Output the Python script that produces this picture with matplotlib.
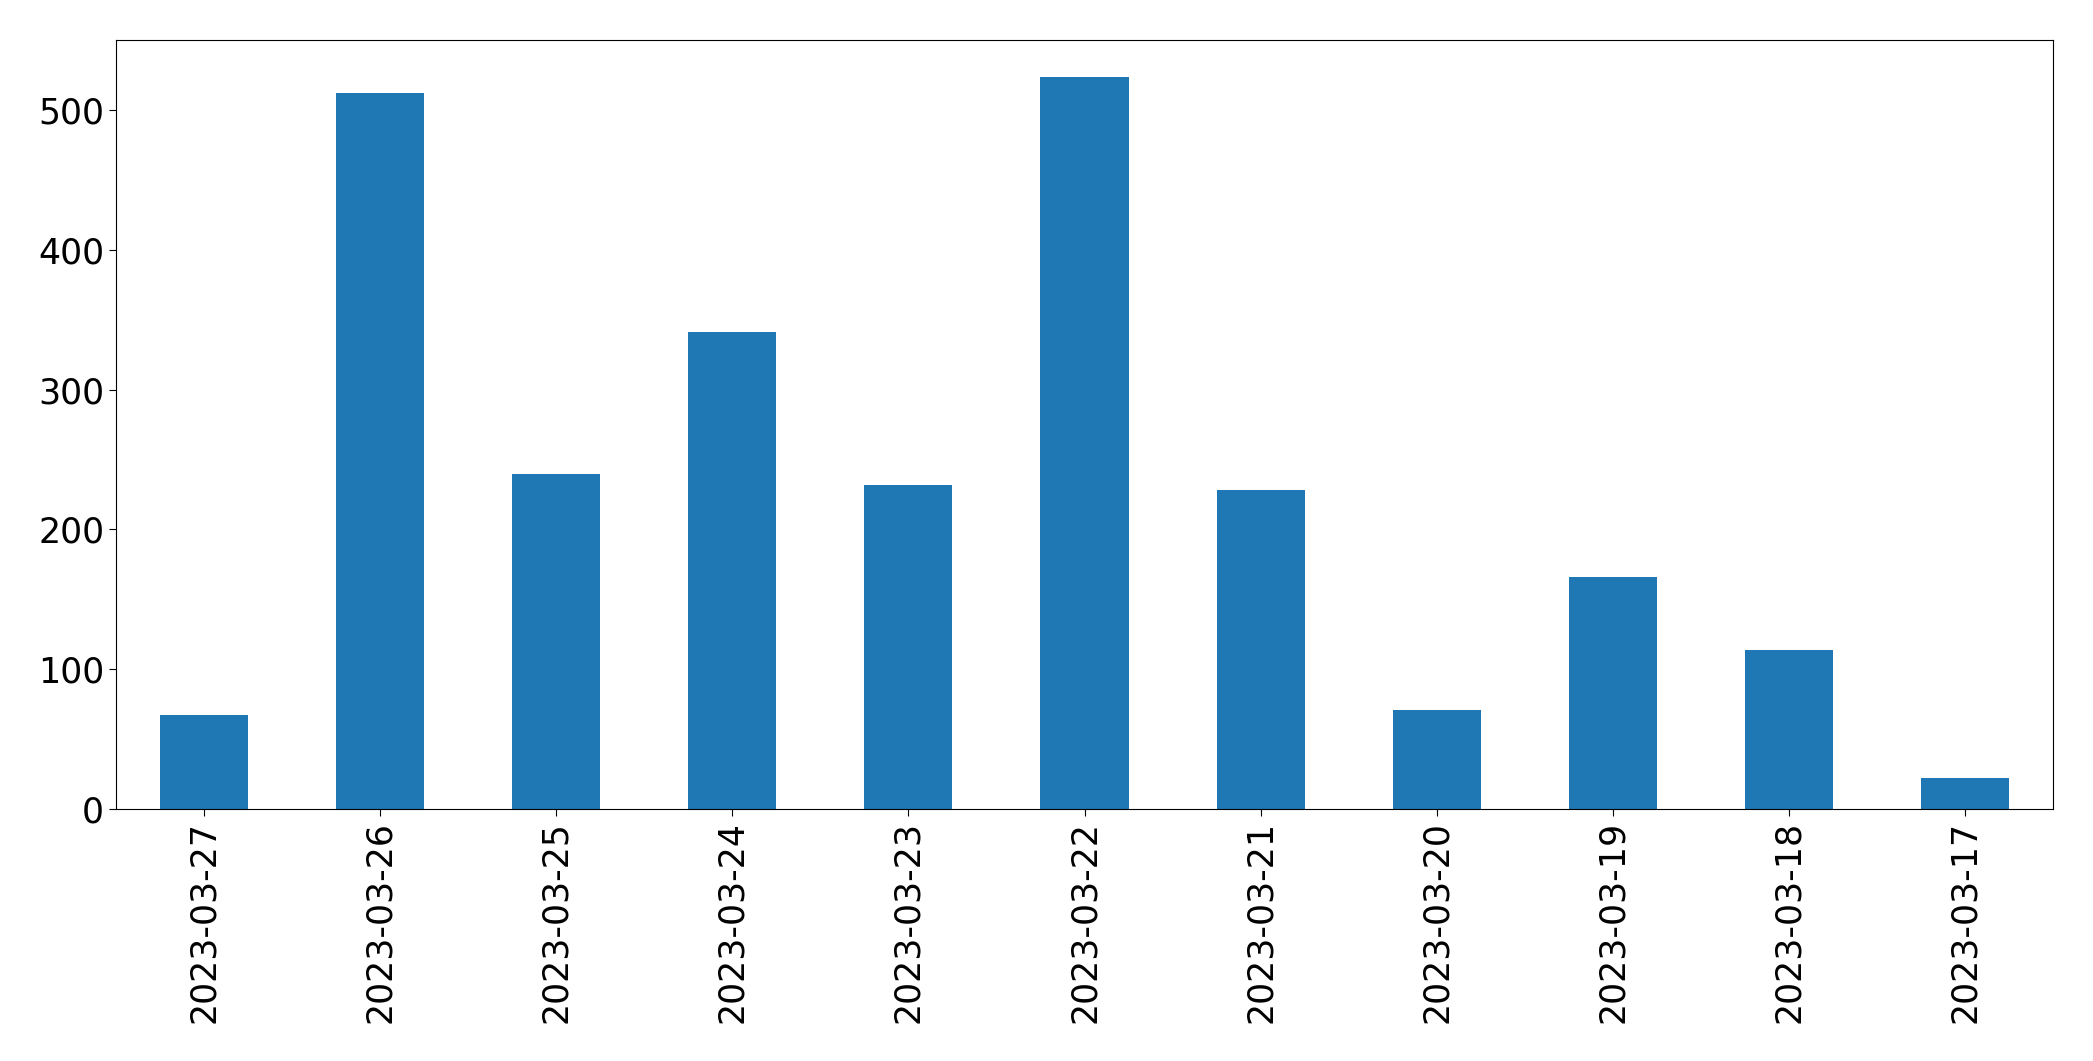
import matplotlib
matplotlib.use("Agg")
import matplotlib.pyplot as plt
import numpy as np

dates = ["2023-03-27", "2023-03-26", "2023-03-25", "2023-03-24", "2023-03-23",
         "2023-03-22", "2023-03-21", "2023-03-20", "2023-03-19", "2023-03-18",
         "2023-03-17"]
counts = [67, 512, 240, 341, 232, 524, 228, 71, 166, 114, 22]

fig = plt.figure(figsize=(20.93, 10.61), dpi=100)
ax = fig.add_axes([116/2093, 1 - 809/1061, (2053-116)/2093, (809-40)/1061])
x = np.arange(len(dates))
ax.bar(x, counts, width=0.5, color="#1f77b4")
ax.set_xlim(-0.5, len(dates) - 0.5)
ax.set_ylim(0, max(counts) * 1.05)
ax.set_xticks(x)
ax.set_xticklabels(dates, rotation=90)
ax.tick_params(axis="both", labelsize=25, length=5)
fig.savefig("out.png", dpi=100)
